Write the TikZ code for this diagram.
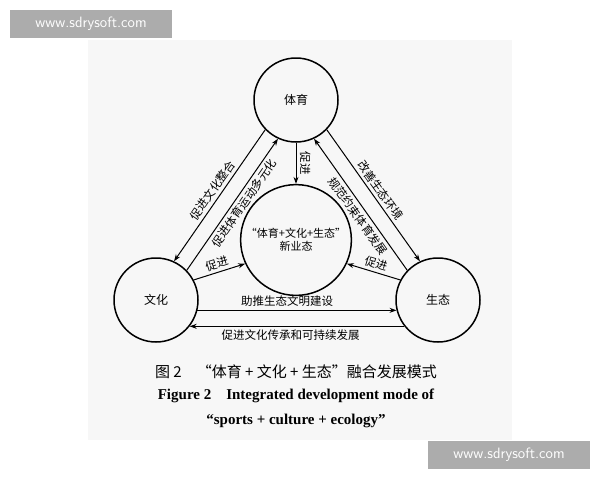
\documentclass[tikz,border=0pt]{standalone}
\usepackage{fontspec}
\setmainfont{Liberation Serif}
\newfontfamily\cjk{Noto Sans CJK SC}
\usetikzlibrary{arrows.meta}
\begin{document}
\begin{tikzpicture}[x=1pt,y=-1pt,>={Stealth[length=7pt,width=5pt]}]
    \tikzset{RingStyle/.style = {circle, draw, line width=1.5pt,
                                 minimum size=84pt, font=\cjk\fontsize{12}{14}\selectfont},
             LinkStyle/.style = {->, line width=1pt},
             TagStyle/.style  = {font=\cjk\fontsize{11.5}{14}\selectfont, sloped, inner sep=3pt},
             MarkStyle/.style = {fill=gray!65, text=white, inner sep=0pt,
                                 minimum width=162pt, minimum height=28pt,
                                 font=\sffamily\fontsize{15}{18}\selectfont}}
    \useasboundingbox (0,0) rectangle (600,480);
    \fill[gray!6] (88,40) rectangle (512,440);
    % circles
    \node[RingStyle] (ty) at (296,100) {体育};
    \node[RingStyle] (wh) at (156,300) {文化};
    \node[RingStyle] (st) at (438,300) {生态};
    \node[RingStyle, minimum size=96pt, align=center, font=\cjk\fontsize{11}{13}\selectfont]
        (xy) at (296,240) {“体育+文化+生态”\\新业态};
    % left pair
    \draw[LinkStyle] (ty.224) -- node[TagStyle, above] {促进文化整合} (wh.65);
    \draw[LinkStyle] (wh.44) -- node[TagStyle, below, pos=0.55] {促进体育运动多元化} (ty.245);
    % right pair
    \draw[LinkStyle] (ty.316) -- node[TagStyle, above] {改善生态环境} (st.115);
    \draw[LinkStyle] (st.136) -- node[TagStyle, below, pos=0.45] {规范约束体育发展} (ty.295);
    % bottom pair
    \draw[LinkStyle] (wh.-14) -- node[TagStyle, above, pos=0.45] {助推生态文明建设} (st.194);
    \draw[LinkStyle] (st.218) -- node[TagStyle, below, pos=0.53] {促进文化传承和可持续发展} (wh.-38);
    % to centre
    \draw[LinkStyle] (ty) -- node[font=\cjk\fontsize{11.5}{14}\selectfont, rotate=-90, above] {促进} (xy);
    \draw[LinkStyle] (wh.28) -- node[TagStyle, above] {促进} (xy.205);
    \draw[LinkStyle] (st.152) -- node[TagStyle, above] {促进} (xy.-25);
    % caption
    \node[font=\cjk\fontsize{15}{18}\selectfont] (cap) at (296,372) {图 2\quad “体育 + 文化 + 生态”融合发展模式};
    \node[font=\bfseries\fontsize{15}{18}\selectfont] (capa) at (296,396) {Figure 2\quad Integrated development mode of};
    \node[font=\bfseries\fontsize{15}{18}\selectfont] (capb) at (296,421) {“sports + culture + ecology”};
    % watermarks
    \node[MarkStyle] (wma) at (91,24) {www.sdrysoft.com};
    \node[MarkStyle] (wmb) at (509,455) {www.sdrysoft.com};
\end{tikzpicture}
\end{document}
